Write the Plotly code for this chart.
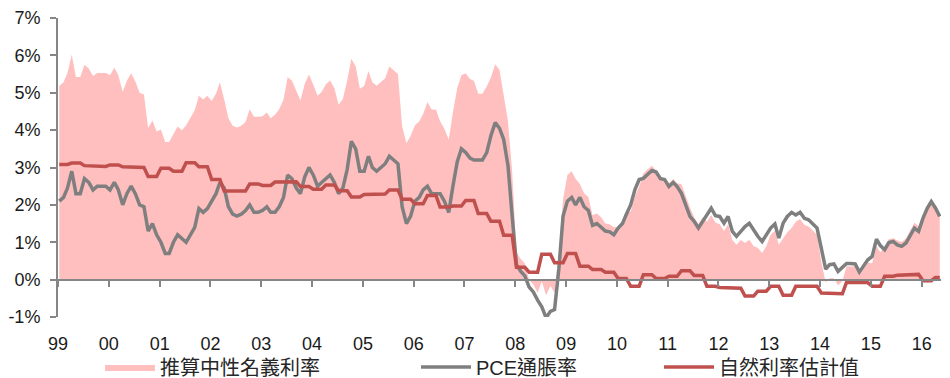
import pandas as pd
import plotly.graph_objects as go

# Monthly data, Jan 1999 - May 2016 (percent)
pce = [
    2.1, 2.2, 2.45, 2.9, 2.3, 2.3, 2.7, 2.6, 2.4, 2.5, 2.5, 2.5,            # 1999
    2.4, 2.6, 2.4, 2.0, 2.3, 2.5, 2.3, 2.0, 1.95, 1.3, 1.5, 1.2,            # 2000
    1.0, 0.7, 0.7, 1.0, 1.2, 1.1, 1.0, 1.2, 1.4, 1.9, 1.8, 1.9,             # 2001
    2.1, 2.3, 2.6, 2.45, 1.95, 1.75, 1.7, 1.75, 1.85, 2.0, 1.8, 1.8,        # 2002
    1.85, 1.95, 1.8, 1.8, 1.95, 2.2, 2.8, 2.7, 2.45, 2.3, 2.75, 3.0,        # 2003
    2.8, 2.5, 2.6, 2.7, 2.8, 2.6, 2.3, 2.45, 2.95, 3.7, 3.5, 2.9,           # 2004
    2.9, 3.3, 3.0, 2.9, 3.0, 3.1, 3.3, 3.2, 3.1, 1.95, 1.5, 1.7,            # 2005
    2.1, 2.2, 2.4, 2.5, 2.3, 2.3, 2.3, 2.1, 1.8, 2.5, 3.15, 3.5,            # 2006
    3.4, 3.25, 3.2, 3.2, 3.2, 3.4, 3.85, 4.2, 4.05, 3.75, 3.05, 1.7,        # 2007
    0.4, 0.22, 0.1, -0.2, -0.33, -0.55, -0.73, -1.02, -0.85, -0.8, 0.3, 1.7,  # 2008
    2.1, 2.2, 2.0, 2.2, 1.95, 1.85, 1.45, 1.5, 1.4, 1.3, 1.28, 1.2,         # 2009
    1.38, 1.5, 1.75, 2.0, 2.4, 2.68, 2.71, 2.82, 2.92, 2.88, 2.7, 2.68,     # 2010
    2.49, 2.6, 2.49, 2.31, 2.0, 1.69, 1.56, 1.38, 1.56, 1.73, 1.91, 1.71,   # 2011
    1.69, 1.51, 1.69, 1.29, 1.16, 1.29, 1.42, 1.51, 1.33, 1.16, 1.02, 1.2,  # 2012
    1.38, 1.49, 1.11, 1.51, 1.69, 1.8, 1.73, 1.8, 1.64, 1.6, 1.5, 1.38,     # 2013
    0.83, 0.28, 0.4, 0.42, 0.22, 0.34, 0.43, 0.43, 0.42, 0.2, 0.36, 0.53,   # 2014
    0.62, 1.08, 0.91, 0.8, 0.99, 1.02, 0.93, 0.89, 0.98, 1.16, 1.38, 1.29,  # 2015
    1.64, 1.91, 2.09, 1.91, 1.69,                                           # 2016
]

natural_rate = [
    3.08, 3.08, 3.08, 3.12, 3.12, 3.12, 3.05, 3.05, 3.05, 3.03, 3.03, 3.03,
    3.07, 3.07, 3.07, 3.02, 3.02, 3.02, 3.0, 3.0, 3.0, 2.76, 2.76, 2.76,
    2.98, 2.98, 2.98, 2.9, 2.9, 2.9, 3.13, 3.13, 3.13, 3.02, 3.02, 3.02,
    2.68, 2.68, 2.68, 2.37, 2.37, 2.37, 2.37, 2.37, 2.37, 2.56, 2.56, 2.56,
    2.52, 2.52, 2.52, 2.61, 2.61, 2.61, 2.62, 2.62, 2.62, 2.49, 2.49, 2.49,
    2.42, 2.42, 2.42, 2.53, 2.53, 2.53, 2.38, 2.38, 2.38, 2.21, 2.21, 2.21,
    2.28, 2.28, 2.28, 2.29, 2.29, 2.29, 2.4, 2.4, 2.4, 2.15, 2.15, 2.15,
    2.03, 2.03, 2.03, 2.25, 2.25, 2.25, 1.94, 1.94, 1.94, 1.97, 1.97, 1.97,
    2.12, 2.12, 2.12, 1.77, 1.77, 1.77, 1.56, 1.56, 1.56, 1.19, 1.19, 1.19,
    0.33, 0.33, 0.33, 0.2, 0.2, 0.2, 0.68, 0.68, 0.68, 0.45, 0.45, 0.45,
    0.7, 0.7, 0.7, 0.36, 0.36, 0.36, 0.27, 0.27, 0.27, 0.2, 0.2, 0.2,
    0.03, 0.03, 0.03, -0.18, -0.18, -0.18, 0.13, 0.13, 0.13, 0.03, 0.03, 0.03,
    0.09, 0.09, 0.09, 0.24, 0.24, 0.24, 0.11, 0.11, 0.11, -0.18, -0.18, -0.18,
    -0.21, -0.21, -0.21, -0.23, -0.23, -0.23, -0.44, -0.44, -0.44, -0.31, -0.31, -0.31,
    -0.18, -0.18, -0.18, -0.42, -0.42, -0.42, -0.18, -0.18, -0.18, -0.18, -0.18, -0.18,
    -0.36, -0.36, -0.36, -0.38, -0.38, -0.38, -0.07, -0.07, -0.07, -0.08, -0.08, -0.08,
    -0.18, -0.18, -0.18, 0.09, 0.09, 0.09, 0.12, 0.12, 0.12, 0.14, 0.14, 0.14,
    -0.03, -0.03, -0.03, 0.06, 0.06,
]

neutral_nominal = [
    5.18, 5.28, 5.53, 6.02, 5.42, 5.42, 5.75, 5.65, 5.45, 5.53, 5.53, 5.53,
    5.47, 5.67, 5.47, 5.02, 5.32, 5.52, 5.3, 5.0, 4.95, 4.06, 4.26, 3.96,
    4.02, 3.68, 3.68, 3.9, 4.1, 4.0, 4.13, 4.33, 4.53, 4.92, 4.82, 4.92,
    4.78, 4.98, 5.28, 4.82, 4.32, 4.12, 4.07, 4.12, 4.22, 4.56, 4.36, 4.36,
    4.37, 4.47, 4.32, 4.41, 4.56, 4.81, 5.42, 5.32, 5.07, 4.79, 5.24, 5.49,
    5.22, 4.92, 5.02, 5.23, 5.33, 5.13, 4.68, 4.83, 5.33, 5.91, 5.71, 5.11,
    5.18, 5.58, 5.28, 5.19, 5.29, 5.39, 5.7, 5.6, 5.5, 4.1, 3.65, 3.85,
    4.13, 4.23, 4.43, 4.75, 4.55, 4.55, 4.24, 4.04, 3.74, 4.47, 5.12, 5.47,
    5.52, 5.37, 5.32, 4.97, 4.97, 5.17, 5.41, 5.76, 5.61, 4.94, 4.24, 2.89,
    0.73, 0.55, 0.43, 0.0, -0.13, -0.35, -0.05, -0.42, -0.17, -0.35, 0.75, 2.15,
    2.8, 2.9, 2.7, 2.56, 2.31, 2.21, 1.72, 1.77, 1.67, 1.5, 1.48, 1.4,
    1.41, 1.53, 1.78, 1.82, 2.22, 2.5, 2.84, 2.95, 3.05, 2.91, 2.73, 2.71,
    2.58, 2.69, 2.58, 2.55, 2.24, 1.93, 1.67, 1.49, 1.67, 1.55, 1.73, 1.53,
    1.48, 1.3, 1.48, 1.06, 0.93, 1.06, 0.98, 1.07, 0.89, 0.85, 0.71, 0.89,
    1.2, 1.31, 0.93, 1.09, 1.27, 1.38, 1.55, 1.62, 1.46, 1.42, 1.32, 1.2,
    0.47, -0.08, 0.04, 0.04, -0.16, -0.04, 0.36, 0.36, 0.35, 0.12, 0.28, 0.45,
    0.44, 0.9, 0.73, 0.89, 1.08, 1.11, 1.05, 1.01, 1.1, 1.3, 1.52, 1.43,
    1.61, 1.88, 2.06, 1.97, 1.75,
]

dates = pd.date_range("1999-01-01", periods=len(pce), freq="MS") + pd.Timedelta(days=9)

year_ticks = [f"{y}-01-01" for y in range(1999, 2017)]
year_labels = ["99", "00", "01", "02", "03", "04", "05", "06", "07", "08",
               "09", "10", "11", "12", "13", "14", "15", "16"]
y_ticks = [-1, 0, 1, 2, 3, 4, 5, 6, 7]
y_labels = ["-1%", "0%", "1%", "2%", "3%", "4%", "5%", "6%", "7%"]

names = ["推算中性名義利率", "PCE通脹率", "自然利率估計值"]

AXIS = "#868686"
LAT = "Liberation Sans, Arial, sans-serif"
CJK = "Liberation Sans, Noto Sans CJK TC, sans-serif"
x_range = ["1999-01-01", "2016-05-19"]

fig = go.Figure()
fig.add_trace(go.Scatter(
    x=dates, y=neutral_nominal, name=names[0], mode="lines",
    fill="tozeroy", fillcolor="#FFBFBF", line=dict(width=0, color="#FFBFBF"),
    legend="legend", hoverinfo="skip",
))
fig.add_trace(go.Scatter(
    x=dates, y=pce, name=names[1], mode="lines",
    line=dict(color="#7F7F7F", width=3.5), legend="legend2",
))
fig.add_trace(go.Scatter(
    x=dates, y=natural_rate, name=names[2], mode="lines", xaxis="x2",
    line=dict(color="#C0504D", width=3.5), legend="legend3",
))

# plot area spans x 58..941 px, y 18..317 px
def px_x(px):
    return (px - 58) / 883

def px_y(py):
    return (317 - py) / 299

leg_common = dict(orientation="h", xref="paper", yref="paper",
                  xanchor="left", yanchor="middle", itemwidth=50,
                  font=dict(family=CJK, size=20, color="#262626"),
                  bgcolor="rgba(0,0,0,0)", borderwidth=0)

fig.update_layout(
    template="none",
    width=950, height=378,
    margin=dict(l=58, r=9, t=18, b=61, autoexpand=False),
    plot_bgcolor="white", paper_bgcolor="white",
    showlegend=True,
    legend=dict(x=px_x(100), y=px_y(367), **leg_common),
    legend2=dict(x=px_x(416), y=px_y(367), **leg_common),
    legend3=dict(x=px_x(659), y=px_y(367), **leg_common),
    xaxis=dict(
        type="date", range=x_range, tickvals=year_ticks, ticktext=year_labels,
        showline=False, showgrid=False, zeroline=False, ticks="",
        tickfont=dict(family=LAT, size=18, color="#1a1a1a"),
        ticklabelstandoff=14, automargin=False,
    ),
    xaxis2=dict(
        type="date", range=x_range, tickvals=year_ticks, overlaying="x",
        anchor="free", position=0.125, side="bottom",
        showline=True, linecolor=AXIS, linewidth=2,
        ticks="outside", ticklen=6, tickwidth=2, tickcolor=AXIS,
        showticklabels=False, showgrid=False, zeroline=False, automargin=False,
    ),
    yaxis=dict(
        range=[-1, 7], tickvals=y_ticks, ticktext=y_labels,
        showline=True, linecolor=AXIS, linewidth=2,
        ticks="outside", ticklen=6, tickwidth=2, tickcolor=AXIS,
        showgrid=False, zeroline=False, automargin=False,
        tickfont=dict(family=LAT, size=18, color="#1a1a1a"),
        ticklabelstandoff=6,
    ),
)

fig.write_html("out.html")
